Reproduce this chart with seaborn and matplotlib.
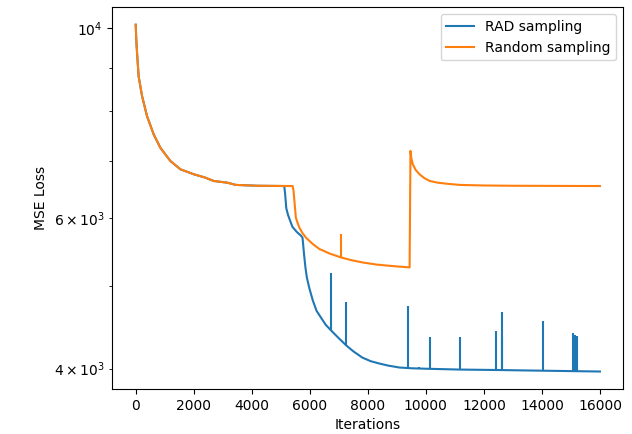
import pandas as pd
import matplotlib
matplotlib.use('Agg')
import matplotlib.pyplot as plt
import seaborn as sns

# RAD sampling: smooth part of the curve
rad_iter = [0, 20, 40, 100, 220, 390, 620, 850, 1195, 1540, 2000, 2400, 2500, 2690,
            3150, 3450, 4200, 5120, 5150, 5190, 5250, 5320, 5400, 5550, 5700, 5750,
            5800, 5850, 5900, 5980, 6100, 6230, 6400, 6550, 6740, 7000, 7260, 7500,
            7810, 8100, 8400, 8700, 9090, 9500, 10000, 11160, 12500, 14000, 16000]
rad_loss = [10100, 9700, 9440, 8790, 8330, 7896, 7516, 7250, 6997, 6842, 6751, 6690, 6668, 6630,
            6600, 6560, 6545, 6540, 6400, 6160, 6050, 5960, 5860, 5780, 5720, 5689,
            5450, 5250, 5110, 4973, 4810, 4675, 4580, 4500, 4430, 4340, 4256, 4190,
            4120, 4080, 4054, 4032, 4011, 4003, 3998, 3989, 3984, 3977, 3968]

# RAD sampling: spikes (iteration, base, peak)
rad_spike_iter = [6730, 7250, 9380, 9780, 10130, 11160, 12430, 12610, 12640, 14040,
                  15080, 15140, 15210]
rad_spike_base = [4430, 4256, 4005, 3998, 3995, 3989, 3984, 3983, 3983, 3977,
                  3972, 3972, 3971]
rad_spike_peak = [5168, 4780, 4738, 4020, 4360, 4355, 4422, 4350, 4662, 4551,
                  4398, 4380, 4371]

# Random sampling
rand_iter = [0, 20, 40, 100, 220, 390, 620, 850, 1195, 1540, 2000, 2400, 2500, 2690,
             3150, 3450, 4200, 5410, 5440, 5470, 5520, 5580, 5640, 5750, 5870, 6100,
             6330, 6700, 7080, 7450, 7820, 8300, 8900, 9440, 9470, 9500, 9550, 9650,
             9780, 9950, 10130, 10400, 10700, 11160, 12000, 13000, 16000]
rand_loss = [10100, 9700, 9440, 8790, 8330, 7896, 7516, 7250, 6997, 6842, 6751, 6690, 6668, 6630,
             6600, 6560, 6545, 6540, 6450, 6283, 6007, 5920, 5848, 5760, 5690, 5595,
             5520, 5450, 5395, 5355, 5323, 5293, 5270, 5253, 7190, 7050, 6934, 6830,
             6751, 6680, 6631, 6600, 6582, 6560, 6550, 6545, 6540]

rand_spike_iter = [7080]
rand_spike_base = [5395]
rand_spike_peak = [5750]

rad_df = pd.DataFrame({'Iterations': rad_iter, 'MSE Loss': rad_loss})
rand_df = pd.DataFrame({'Iterations': rand_iter, 'MSE Loss': rand_loss})

fig, ax = plt.subplots(figsize=(6.32, 4.34), dpi=100)
fig.subplots_adjust(left=0.178, right=0.986, bottom=0.104, top=0.983)

sns.lineplot(data=rad_df, x='Iterations', y='MSE Loss', color='C0',
             label='RAD sampling', ax=ax)
ax.vlines(rad_spike_iter, rad_spike_base, rad_spike_peak, color='C0', linewidth=1.5)

sns.lineplot(data=rand_df, x='Iterations', y='MSE Loss', color='C1',
             label='Random sampling', ax=ax)
ax.vlines(rand_spike_iter, rand_spike_base, rand_spike_peak, color='C1', linewidth=1.5)

ax.set_yscale('log')
ax.set_xlabel('Iterations')
ax.set_ylabel('MSE Loss')
ax.legend(loc='upper right')

plt.savefig('out.png', dpi=100)
